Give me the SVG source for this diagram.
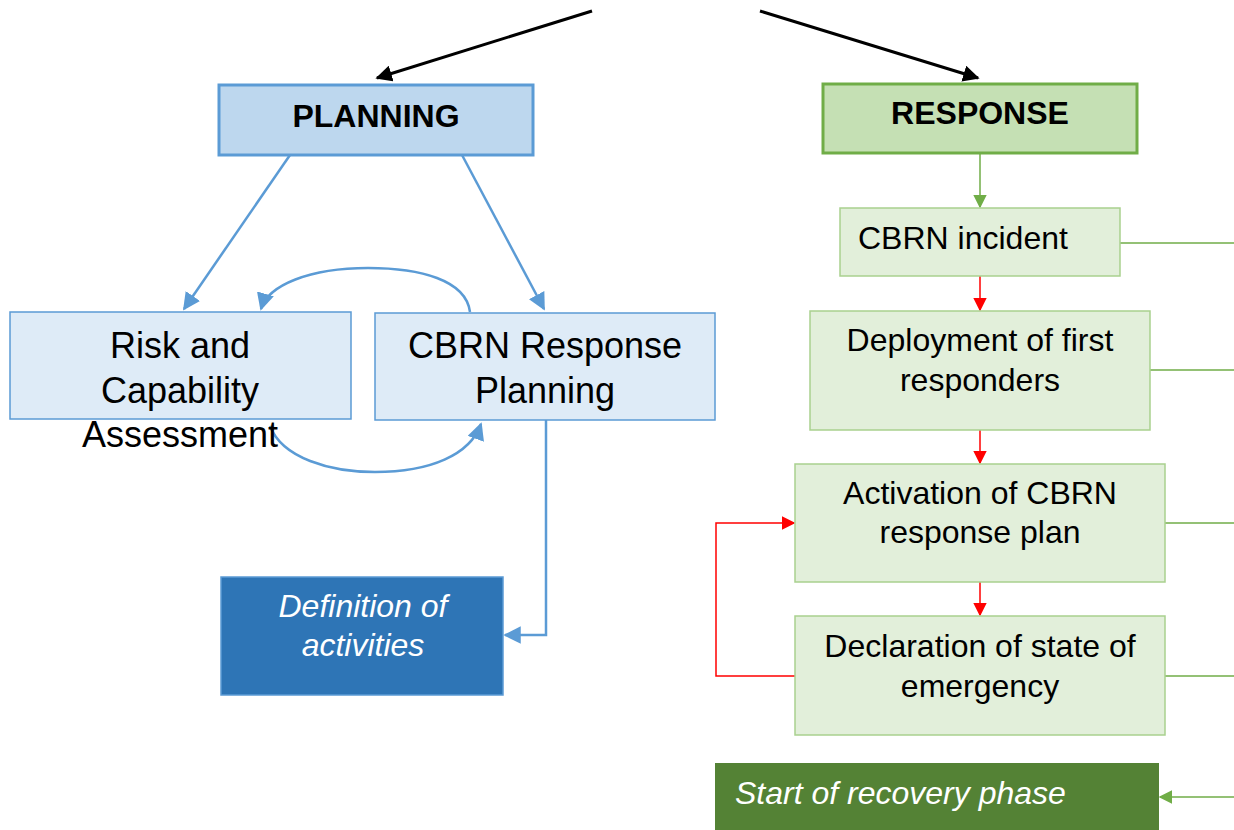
<svg xmlns="http://www.w3.org/2000/svg" width="1234" height="830" viewBox="0 0 1234 830">
<defs>
<style>
text{font-family:"Liberation Sans",Arial,sans-serif;}
.t36{font-size:36px;fill:#000;text-anchor:middle;}
.t32{font-size:32px;fill:#000;text-anchor:middle;}
.t32s{font-size:32px;fill:#000;text-anchor:start;}
.hdr{font-size:32px;font-weight:bold;fill:#000;text-anchor:middle;}
.wi{font-size:32px;font-style:italic;fill:#fff;}
.lb{fill:#DEEBF7;stroke:#5B9BD5;stroke-width:1.5;}
.lg{fill:#E2EFDA;stroke:#A9D18E;stroke-width:1.5;}
.cb{fill:none;stroke:#5B9BD5;stroke-width:2.5;}
.cg{fill:none;stroke:#70AD47;stroke-width:1.5;}
.cr{fill:none;stroke:#FF0000;stroke-width:1.5;}
.ck{fill:none;stroke:#000;stroke-width:3;}
</style>
<marker id="ak" viewBox="0 0 10 10" refX="9" refY="5" markerWidth="5.5" markerHeight="5.5" orient="auto" markerUnits="strokeWidth"><path d="M0,0L10,5L0,10z" fill="#000"/></marker>
<marker id="ab" viewBox="0 0 10 10" refX="9" refY="5" markerWidth="7" markerHeight="7" orient="auto" markerUnits="strokeWidth"><path d="M0,0L10,5L0,10z" fill="#5B9BD5"/></marker>
<marker id="ag" viewBox="0 0 10 10" refX="9" refY="5" markerWidth="9" markerHeight="9" orient="auto" markerUnits="strokeWidth"><path d="M0,0L10,5L0,10z" fill="#70AD47"/></marker>
<marker id="ar" viewBox="0 0 10 10" refX="9" refY="5" markerWidth="9" markerHeight="9" orient="auto" markerUnits="strokeWidth"><path d="M0,0L10,5L0,10z" fill="#FF0000"/></marker>
</defs>
<g id="connectors">
<line class="ck" x1="592" y1="11" x2="377" y2="78" marker-end="url(#ak)"/>
<line class="ck" x1="760" y1="11" x2="978" y2="78" marker-end="url(#ak)"/>
<line class="cb" x1="290" y1="155" x2="184" y2="309" marker-end="url(#ab)"/>
<line class="cb" x1="462" y1="155" x2="544" y2="309" marker-end="url(#ab)"/>
<path class="cb" d="M470,312 C466,280 420,268 368,268 C310,268 268,285 261,309" marker-end="url(#ab)"/>
<path class="cb" d="M270,426 C282,458 330,472 375,472 C430,472 470,455 481,424" marker-end="url(#ab)"/>
<path class="cb" d="M546,420 L546,635 L505,635" marker-end="url(#ab)"/>
<line class="cg" x1="980" y1="153" x2="980" y2="207" marker-end="url(#ag)"/>
<line class="cr" x1="980" y1="276" x2="980" y2="310" marker-end="url(#ar)"/>
<line class="cr" x1="980" y1="430" x2="980" y2="463" marker-end="url(#ar)"/>
<line class="cr" x1="980" y1="582" x2="980" y2="615" marker-end="url(#ar)"/>
<path class="cr" d="M795,676 L716,676 L716,523 L794,523" marker-end="url(#ar)"/>
<line class="cg" x1="1120" y1="243" x2="1234" y2="243"/>
<line class="cg" x1="1150" y1="370" x2="1234" y2="370"/>
<line class="cg" x1="1165" y1="523" x2="1234" y2="523"/>
<line class="cg" x1="1165" y1="676" x2="1234" y2="676"/>
<line class="cg" x1="1234" y1="797" x2="1160" y2="797" marker-end="url(#ag)"/>
</g>
<g id="planning">
<rect x="219" y="85" width="314" height="70" fill="#BDD7EE" stroke="#5B9BD5" stroke-width="3"/>
<text class="hdr" x="376" y="127">PLANNING</text>
</g>
<g id="response">
<rect x="823" y="84" width="314" height="69" fill="#C5E0B4" stroke="#70AD47" stroke-width="3"/>
<text class="hdr" x="980" y="124">RESPONSE</text>
</g>
<g id="risk">
<rect class="lb" x="10" y="312" width="341" height="107"/>
<text class="t36" x="180" y="358">Risk and</text>
<text class="t36" x="180" y="403">Capability</text>
<text class="t36" x="180" y="447">Assessment</text>
</g>
<g id="cbrn-planning">
<rect class="lb" x="375" y="313" width="340" height="107"/>
<text class="t36" x="545" y="358">CBRN Response</text>
<text class="t36" x="545" y="403">Planning</text>
</g>
<g id="definition">
<rect x="221" y="577" width="282" height="118" fill="#2E75B6" stroke="#5B9BD5" stroke-width="1.5"/>
<text class="wi" x="363" y="617" text-anchor="middle">Definition of</text>
<text class="wi" x="363" y="656" text-anchor="middle">activities</text>
</g>
<g id="incident">
<rect class="lg" x="840" y="208" width="280" height="68"/>
<text class="t32s" x="858" y="249">CBRN incident</text>
</g>
<g id="deployment">
<rect class="lg" x="810" y="311" width="340" height="119"/>
<text class="t32" x="980" y="351">Deployment of first</text>
<text class="t32" x="980" y="391">responders</text>
</g>
<g id="activation">
<rect class="lg" x="795" y="464" width="370" height="118"/>
<text class="t32" x="980" y="504">Activation of CBRN</text>
<text class="t32" x="980" y="543">response plan</text>
</g>
<g id="declaration">
<rect class="lg" x="795" y="616" width="370" height="119"/>
<text class="t32" x="980" y="657">Declaration of state of</text>
<text class="t32" x="980" y="697">emergency</text>
</g>
<g id="recovery">
<rect x="715" y="763" width="444" height="70" fill="#548235"/>
<text class="wi" x="735" y="804">Start of recovery phase</text>
</g>
</svg>
